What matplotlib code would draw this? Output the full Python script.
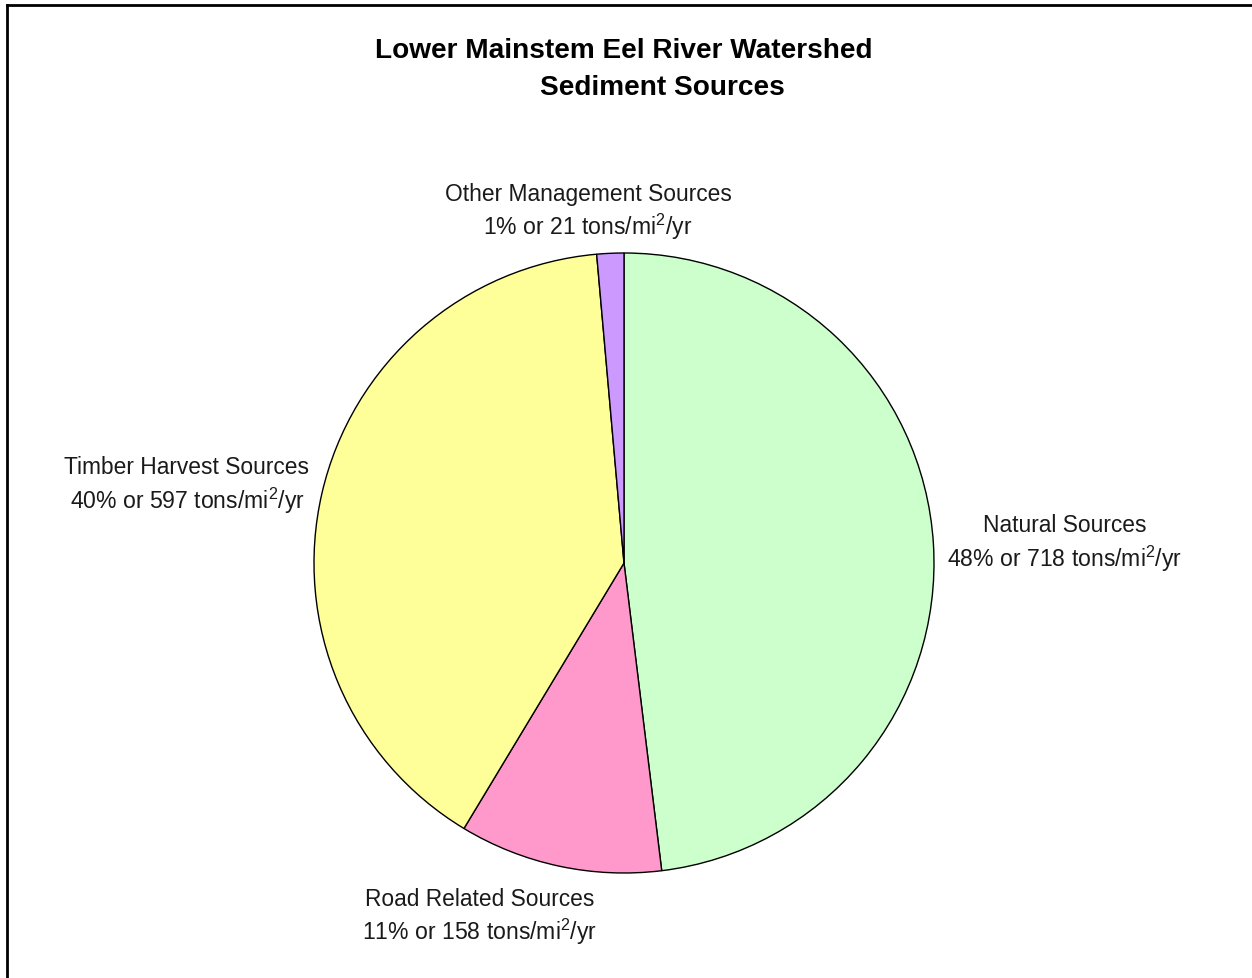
import matplotlib
matplotlib.use("Agg")
import matplotlib.pyplot as plt
from matplotlib.lines import Line2D

categories = ["Natural Sources", "Road Related Sources", "Timber Harvest Sources", "Other Management Sources"]
values = [718, 158, 597, 21]
colors = ["#CCFFCC", "#FF99CC", "#FFFF99", "#CC99FF"]
title_lines = ["Lower Mainstem Eel River Watershed", "Sediment Sources"]

plt.rcParams['font.family'] = ['Liberation Sans', 'DejaVu Sans']
plt.rcParams['mathtext.fontset'] = 'custom'
plt.rcParams['mathtext.rm'] = 'Liberation Sans'
plt.rcParams['mathtext.it'] = 'Liberation Sans'
plt.rcParams['mathtext.default'] = 'regular'

W, H = 1252, 979
fig = plt.figure(figsize=(W / 100, H / 100), dpi=100)
fig.patch.set_facecolor("white")

# border (left and top)
fig.add_artist(Line2D([7 / W, 7 / W], [0, 1 - 6 / H], transform=fig.transFigure, color="black", lw=2.0))
fig.add_artist(Line2D([7 / W, 1], [1 - 6 / H, 1 - 6 / H], transform=fig.transFigure, color="black", lw=2.0))

cx, cy, r = 624, 564, 310
ax = fig.add_axes([(cx - r) / W, (H - cy - r) / H, 2 * r / W, 2 * r / H])
ax.pie(values, colors=colors, startangle=90, counterclock=False,
       wedgeprops=dict(edgecolor="black", linewidth=1.0), radius=1.0)
ax.set_xlim(-1.0, 1.0)
ax.set_ylim(-1.0, 1.0)
ax.set_aspect("equal")
ax.axis("off")

def px(x, y):
    return x / W, 1 - y / H

fig.text(*px(624, 51), title_lines[0], ha="center", va="center", fontsize=20.2, fontweight="bold")
fig.text(*px(662, 88), title_lines[1], ha="center", va="center", fontsize=20.2, fontweight="bold")

total = sum(values)
label_pos = {
    "Natural Sources": (1065, 526),
    "Road Related Sources": (480, 899),
    "Timber Harvest Sources": (187, 468),
    "Other Management Sources": (588, 194),
}
for cat, v in zip(categories, values):
    pct = round(100 * v / total)
    x, y = label_pos[cat]
    fig.text(*px(x, y), cat, ha="center", va="center", fontsize=16.4, color="#1a1a1a")
    fig.text(*px(x, y + 33), f"{pct}% or {v} tons/mi$^{{2}}$/yr", ha="center", va="center",
             fontsize=16.6, color="#1a1a1a")

fig.savefig("out.png", dpi=100, facecolor="white")
